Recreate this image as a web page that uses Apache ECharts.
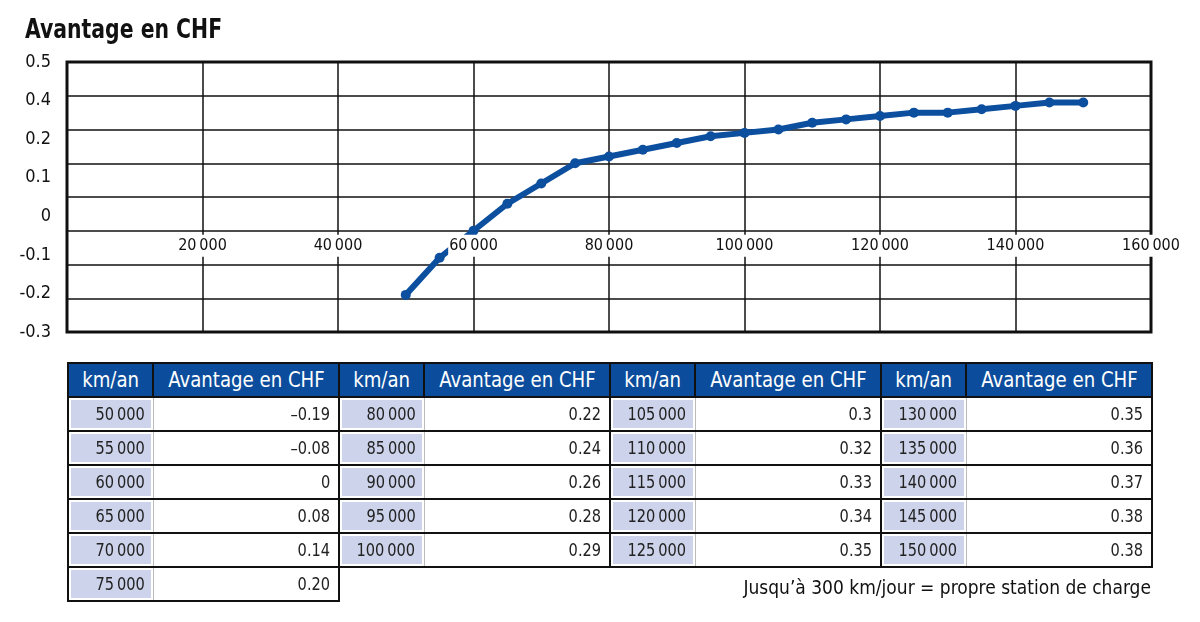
<!DOCTYPE html>
<html><head><meta charset="utf-8">
<script src="https://cdn.jsdelivr.net/npm/echarts@6/dist/echarts.min.js"></script>
<style>
html,body{margin:0;padding:0;background:#fff;width:1200px;height:622px;overflow:hidden;}
#chart{position:absolute;left:0;top:0;width:1200px;height:622px;}
.f{font-family:"DejaVu Sans Condensed","DejaVu Sans",sans-serif;font-stretch:condensed;}
#title{position:absolute;left:25px;top:13px;font-size:27px;font-weight:bold;color:#111;transform:scaleX(0.84);transform-origin:left center;white-space:nowrap;}
#tbl{position:absolute;left:67px;top:362px;border-collapse:collapse;table-layout:fixed;}
#tbl td,#tbl th{padding:0 8px 0 0;text-align:right;font-size:18px;color:#222;height:32px;line-height:32px;white-space:nowrap;}
#tbl th{background:#0b4d9c;color:#fff;font-weight:normal;font-size:21px;text-align:center;padding:0;height:30px;border:2px solid #111;}
#tbl td.k{background:#ccd3ea;box-shadow:inset 0 0 0 2px #fff;border-left:2px solid #111;border-top:2px solid #111;border-bottom:2px solid #111;border-right:1px solid #bbb;}
#tbl td.v{background:#fff;border-right:2px solid #111;border-top:2px solid #111;border-bottom:2px solid #111;}
#tbl td.e{border:none;}
.s{display:inline-block;transform:scaleX(0.9);transform-origin:right center;}
th .s{transform:scaleX(0.96);transform-origin:center center;}
#note{position:absolute;right:49px;top:575px;font-size:20px;color:#111;transform:scaleX(0.95);transform-origin:right center;white-space:nowrap;}
</style></head>
<body>
<div id="chart"></div>
<div id="title" class="f"></div>
<table id="tbl" class="f"></table>
<div id="note" class="f">Jusqu’à 300 km/jour = propre station de charge</div>
<script>
const kmPerYear = [50000,55000,60000,65000,70000,75000,80000,85000,90000,95000,100000,105000,110000,115000,120000,125000,130000,135000,140000,145000,150000];
const advantage = [-0.19,-0.08,0,0.08,0.14,0.20,0.22,0.24,0.26,0.28,0.29,0.3,0.32,0.33,0.34,0.35,0.35,0.36,0.37,0.38,0.38];
const advantageLabels = ["–0.19","–0.08","0","0.08","0.14","0.20","0.22","0.24","0.26","0.28","0.29","0.3","0.32","0.33","0.34","0.35","0.35","0.36","0.37","0.38","0.38"];
const yTickLabels = ["0.5","0.4","0.2","0.1","0","-0.1","-0.2","-0.3"];
const groupSizes = [6,5,5,5];
const headerKm = "km/an";
const headerVal = "Avantage en CHF";
const titleText = "Avantage en CHF";
const yMin = -0.3, yMax = 0.5, yStep = 0.1;
const xMin = 0, xMax = 160000, xStep = 20000;

function fmtKm(v){ const s=String(v); return s.slice(0,s.length-3)+"\u2009"+s.slice(-3); }

document.getElementById('title').textContent = titleText;

const FONT = '"DejaVu Sans Condensed","DejaVu Sans",sans-serif';
const G = {left:67,right:49,top:62,bottom:290,outerBoundsMode:'none',containLabel:false};
const plotH = 622 - G.top - G.bottom;
const zeroOffset = -plotH * (0 - yMin) / (yMax - yMin);
const chart = echarts.init(document.getElementById('chart'));
chart.setOption({
  animation:false,
  grid:[
    Object.assign({show:true,borderColor:'#111',borderWidth:3,backgroundColor:'transparent'},G),
    Object.assign({},G),
    Object.assign({},G)
  ],
  xAxis:[
    {gridIndex:0,type:'value',min:xMin,max:xMax,interval:xStep,
      axisLine:{show:false},axisTick:{show:false},axisLabel:{show:false},
      splitLine:{show:true,lineStyle:{color:'#111',width:1.5}}},
    {gridIndex:1,type:'value',min:xMin,max:xMax,interval:xStep,z:5,position:'bottom',offset:zeroOffset,
      axisLine:{show:false,onZero:false},axisTick:{show:false},splitLine:{show:false},
      axisLabel:{showMinLabel:false,showMaxLabel:true,fontFamily:FONT,fontSize:16,color:'#111',margin:4,
        backgroundColor:'#fff',padding:[3,1,3,1],formatter:v=>fmtKm(v)}},
    {gridIndex:2,type:'value',min:xMin,max:xMax,show:false}
  ],
  yAxis:[
    {gridIndex:0,type:'value',min:yMin,max:yMax,interval:yStep,
      axisLine:{show:false},axisTick:{show:false},axisLabel:{show:false},
      splitLine:{show:true,lineStyle:{color:'#111',width:1.5}}},
    {gridIndex:1,type:'value',min:yMin,max:yMax,interval:yStep,show:false},
    {gridIndex:2,type:'category',data:yTickLabels,inverse:true,boundaryGap:false,position:'left',
      axisLine:{show:false},axisTick:{show:false},splitLine:{show:false},
      axisLabel:{fontFamily:FONT,fontSize:18,color:'#111',margin:16,interval:0}}
  ],
  series:[{type:'line',xAxisIndex:0,yAxisIndex:0,data:kmPerYear.map((k,i)=>[k,advantage[i]]),
    symbol:'circle',symbolSize:10,lineStyle:{color:'#0d4f9f',width:6},itemStyle:{color:'#0d4f9f'},z:2}]
});

// table
const tbl=document.getElementById('tbl');
const colW=[85,186];
let html='<colgroup>';
for(let g=0;g<4;g++){html+=`<col style="width:${colW[0]}px"><col style="width:${colW[1]}px">`;}
html+='</colgroup><tr>';
for(let g=0;g<4;g++){html+=`<th><span class="s">${headerKm}</span></th><th><span class="s">${headerVal}</span></th>`;}
html+='</tr>';
const starts=[];let acc=0;for(const s of groupSizes){starts.push(acc);acc+=s;}
const maxRows=Math.max(...groupSizes);
for(let r=0;r<maxRows;r++){
  html+='<tr>';
  for(let g=0;g<4;g++){
    if(r<groupSizes[g]){const i=starts[g]+r;
      html+=`<td class="k"><span class="s">${fmtKm(kmPerYear[i])}</span></td><td class="v"><span class="s">${advantageLabels[i]}</span></td>`;}
    else html+='<td class="e"></td><td class="e"></td>';
  }
  html+='</tr>';
}
tbl.innerHTML=html;
</script>
</body></html>
